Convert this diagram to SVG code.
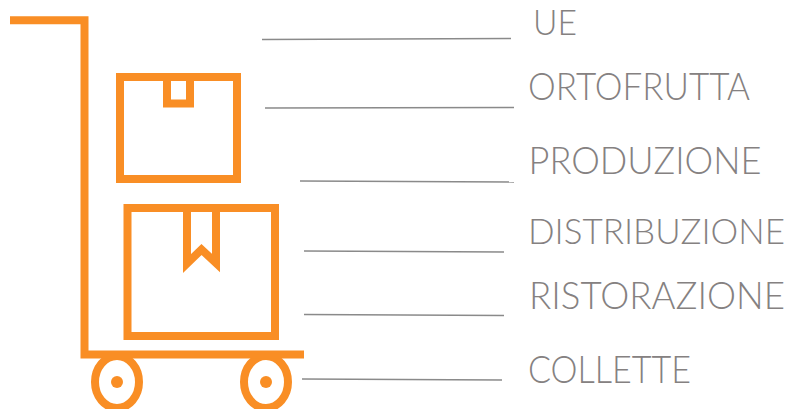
<svg xmlns="http://www.w3.org/2000/svg" width="793" height="409" viewBox="0 0 793 409">
<style>
.o{fill:none;stroke:#f98e25;stroke-width:8}
.h{fill:#f98e25}
.l{fill:none;stroke:#8a8a8a;stroke-width:1.3}
text{font-family:"Lato","Liberation Sans",sans-serif;font-weight:300;font-size:37px;fill:#858181}
</style>
<rect width="793" height="409" fill="#fff"/>
<g id="cart">
<ellipse class="o" cx="117" cy="382" rx="22" ry="26"/>
<circle class="h" cx="117" cy="382" r="6"/>
<ellipse class="o" cx="266" cy="382" rx="22" ry="26"/>
<circle class="h" cx="266" cy="382" r="6"/>
<path class="o" d="M10 20.300H84.500V354.500H304"/>
</g>
<g id="box-small">
<rect class="o" x="120" y="77" width="117" height="102"/>
<rect class="o" x="167" y="77" width="23" height="26.500"/>
</g>
<g id="box-large">
<rect class="o" x="127.500" y="208" width="147.500" height="128"/>
<path class="o" d="M187 208V263.500L201.500 249.500L216 263V208"/>
</g>
<g id="connectors">
<path class="l" d="M262 39.500L511 38.500"/>
<path class="l" d="M265 108L514 107.500"/>
<path class="l" d="M300 181L514 182"/>
<path class="l" d="M304 251L504 252"/>
<path class="l" d="M304 314.500L504 315.500"/>
<path class="l" d="M302 379L502 380"/>
</g>
<g id="label-ue"><text x="533" y="35" style="font-size:35px" textLength="44" lengthAdjust="spacingAndGlyphs">UE</text></g>
<g id="label-ortofrutta"><text x="528" y="100" textLength="222" lengthAdjust="spacingAndGlyphs">ORTOFRUTTA</text></g>
<g id="label-produzione"><text x="528.500" y="173.500" textLength="233" lengthAdjust="spacingAndGlyphs">PRODUZIONE</text></g>
<g id="label-distribuzione"><text x="528" y="243.700" style="font-size:36px" textLength="257" lengthAdjust="spacingAndGlyphs">DISTRIBUZIONE</text></g>
<g id="label-ristorazione"><text x="529" y="309" textLength="256" lengthAdjust="spacingAndGlyphs">RISTORAZIONE</text></g>
<g id="label-collette"><text x="528" y="382.500" textLength="163" lengthAdjust="spacingAndGlyphs">COLLETTE</text></g>
</svg>
